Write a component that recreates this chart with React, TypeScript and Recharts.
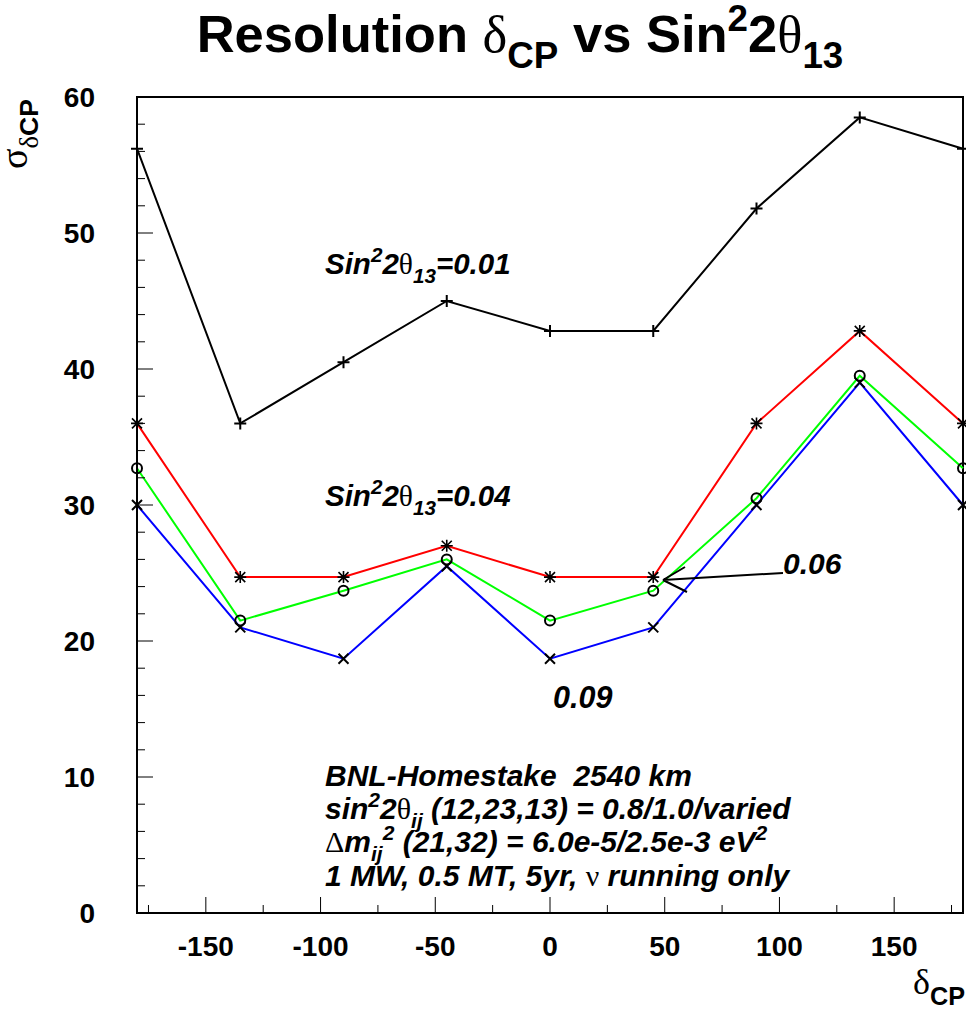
import React from 'react';
import { LineChart, Line, XAxis, YAxis, ReferenceArea } from 'recharts';

// delta_CP grid (degrees) and the resolution sigma(delta_CP) for each sin^2 2theta_13
const deltaCP = [-180, -135, -90, -45, 0, 45, 90, 135, 180];
const sigma001 = [56.2, 36.0, 40.5, 45.0, 42.8, 42.8, 51.8, 58.5, 56.2];
const sigma004 = [36.0, 24.7, 24.7, 27.0, 24.7, 24.7, 36.0, 42.8, 36.0];
const sigma006 = [32.7, 21.5, 23.7, 26.0, 21.5, 23.7, 30.5, 39.5, 32.7];
const sigma009 = [30.0, 21.0, 18.7, 25.5, 18.7, 21.0, 30.0, 39.0, 30.0];

const xTicks = [-175, -150, -125, -100, -75, -50, -25, 0, 25, 50, 75, 100, 125, 150, 175];
const yTicks = [0, 2, 4, 6, 8, 10, 12, 14, 16, 18, 20, 22, 24, 26, 28, 30, 32, 34, 36, 38, 40, 42, 44, 46, 48, 50, 52, 54, 56, 58, 60];

const data = deltaCP.map((d, i) => ({
  d,
  s001: sigma001[i],
  s004: sigma004[i],
  s006: sigma006[i],
  s009: sigma009[i],
}));

const SANS = '"Liberation Sans", Arial, Helvetica, sans-serif';
const SERIF = '"Liberation Serif", "Times New Roman", serif';

const X_MARGIN = 22;
const Y_MARGIN = 42;

const YTick = (props: any) => {
  const { x, y, payload } = props;
  const v = payload.value as number;
  const major = v % 10 === 0;
  const ax = x + Y_MARGIN;
  return (
    <g>
      {v !== 0 && v !== 60 && (
        <line x1={ax} x2={ax + (major ? 16 : 8)} y1={y} y2={y} stroke="#000" strokeWidth={1} />
      )}
      {major && (
        <text x={x} y={y} dy="0.36em" textAnchor="end" fontFamily={SANS} fontWeight="bold" fontSize={28} fill="#000">
          {v}
        </text>
      )}
    </g>
  );
};

const XTick = (props: any) => {
  const { x, y, payload } = props;
  const v = payload.value as number;
  const major = v % 50 === 0;
  const ay = y - X_MARGIN;
  return (
    <g>
      <line x1={x} x2={x} y1={ay} y2={ay - (major ? 16 : 8)} stroke="#000" strokeWidth={1} />
      {major && (
        <text x={x} y={y} dy="0.74em" textAnchor="middle" fontFamily={SANS} fontWeight="bold" fontSize={28} fill="#000">
          {v}
        </text>
      )}
    </g>
  );
};

// point markers
const plusDot = (p: any) => (
  <path key={`p-${p.index}`} d={`M${p.cx - 6},${p.cy}h12M${p.cx},${p.cy - 6}v12`} stroke="#000" strokeWidth={2} fill="none" />
);
const starDot = (p: any) => (
  <path
    key={`s-${p.index}`}
    d={`M${p.cx - 5},${p.cy - 5}l10,10M${p.cx - 5},${p.cy + 5}l10,-10M${p.cx - 6},${p.cy}h12M${p.cx},${p.cy - 6}v12`}
    stroke="#000"
    strokeWidth={1.6}
    fill="none"
  />
);
const circleDot = (p: any) => (
  <circle key={`c-${p.index}`} cx={p.cx} cy={p.cy} r={5} stroke="#000" strokeWidth={2} fill="none" />
);
const crossDot = (p: any) => (
  <path key={`x-${p.index}`} d={`M${p.cx - 5},${p.cy - 5}l10,10M${p.cx - 5},${p.cy + 5}l10,-10`} stroke="#000" strokeWidth={2} fill="none" />
);

type Seg = { t: string; sub?: boolean; sup?: boolean; greek?: boolean };

// Renders a run of text segments with sub/superscripts using relative dy shifts
const Rich = ({ segs, size, italic }: { segs: Seg[]; size: number; italic?: boolean }) => {
  let shift = 0;
  const out: React.ReactNode[] = [];
  segs.forEach((s, i) => {
    const target = s.sub ? 0.3 * size : s.sup ? -0.4 * size : 0;
    const dy = target - shift;
    shift = target;
    out.push(
      <tspan
        key={i}
        dy={dy}
        fontSize={s.sub || s.sup ? size * 0.7 : size}
        fontFamily={s.greek ? SERIF : SANS}
        fontWeight={s.greek ? 'normal' : 'bold'}
        fontStyle={s.greek || !italic ? 'normal' : 'italic'}
      >
        {s.t}
      </tspan>
    );
  });
  return <>{out}</>;
};

const sinTheta = (val: string): Seg[] => [
  { t: 'Sin' },
  { t: '2', sup: true },
  { t: '2' },
  { t: 'θ', greek: true },
  { t: '13', sub: true },
  { t: '=' + val },
];

const Overlay = () => (
  <svg width={966} height={1012} style={{ position: 'absolute', left: 0, top: 0, pointerEvents: 'none' }}>
    {/* title */}
    <text x={520} y={52} textAnchor="middle" fill="#000" style={{ whiteSpace: 'pre' }}>
      <Rich
        size={52.5}
        segs={[
          { t: 'Resolution ' },
          { t: 'δ', greek: true },
          { t: 'CP', sub: true },
          { t: ' vs Sin' },
          { t: '2', sup: true },
          { t: '2' },
          { t: 'θ', greek: true },
          { t: '13', sub: true },
        ]}
      />
    </text>

    {/* y-axis title */}
    <text transform="translate(27,169) rotate(-90)" fill="#000">
      <Rich size={38} segs={[{ t: 'σ', greek: true }, { t: 'δ', greek: true, sub: true }, { t: 'CP', sub: true }]} />
    </text>

    {/* x-axis title */}
    <text x={965} y={994} textAnchor="end" fill="#000">
      <Rich size={36} segs={[{ t: 'δ', greek: true }, { t: 'CP', sub: true }]} />
    </text>

    {/* curve labels */}
    <text x={325} y={274} fill="#000">
      <Rich size={29.5} italic segs={sinTheta('0.01')} />
    </text>
    <text x={325} y={506} fill="#000">
      <Rich size={29.5} italic segs={sinTheta('0.04')} />
    </text>
    <text x={783} y={574} fill="#000" fontFamily={SANS} fontWeight="bold" fontStyle="italic" fontSize={30}>
      0.06
    </text>
    <text x={553} y={708} fill="#000" fontFamily={SANS} fontWeight="bold" fontStyle="italic" fontSize={30.5}>
      0.09
    </text>
    <path d="M783,573L663,580M663,580L685,567M663,580L687,592" stroke="#000" strokeWidth={2} fill="none" />

    {/* run parameters */}
    <text x={325} y={786} fill="#000" style={{ whiteSpace: 'pre' }}>
      <Rich size={30} italic segs={[{ t: 'BNL-Homestake  2540 km' }]} />
    </text>
    <text x={325} y={819} fill="#000" style={{ whiteSpace: 'pre' }}>
      <Rich
        size={30}
        italic
        segs={[
          { t: 'sin' },
          { t: '2', sup: true },
          { t: '2' },
          { t: 'θ', greek: true },
          { t: 'ij', sub: true },
          { t: ' (12,23,13) = 0.8/1.0/varied' },
        ]}
      />
    </text>
    <text x={325} y={852} fill="#000" style={{ whiteSpace: 'pre' }}>
      <Rich
        size={30}
        italic
        segs={[
          { t: 'Δ', greek: true },
          { t: 'm' },
          { t: 'ij', sub: true },
          { t: '2', sup: true },
          { t: ' (21,32) = 6.0e-5/2.5e-3 eV' },
          { t: '2', sup: true },
        ]}
      />
    </text>
    <text x={325} y={886} fill="#000" style={{ whiteSpace: 'pre' }}>
      <Rich
        size={30}
        italic
        segs={[{ t: '1 MW, 0.5 MT, 5yr, ' }, { t: 'ν', greek: true }, { t: ' running only' }]}
      />
    </text>
  </svg>
);

export default function App() {
  return (
    <div style={{ position: 'absolute', left: 0, top: 0, width: 966, height: 1012, background: '#fff' }}>
      <LineChart width={966} height={1012} data={data} margin={{ top: 97, right: 3, bottom: 0, left: 0 }}>
        <XAxis
          dataKey="d"
          type="number"
          domain={[-180, 180]}
          ticks={xTicks}
          interval={0}
          height={99}
          tickSize={0}
          tickMargin={X_MARGIN}
          tickLine={false}
          axisLine={{ stroke: '#000', strokeWidth: 2 }}
          tick={<XTick />}
        />
        <YAxis
          type="number"
          domain={[0, 60]}
          ticks={yTicks}
          interval={0}
          width={137}
          tickSize={0}
          tickMargin={Y_MARGIN}
          tickLine={false}
          axisLine={{ stroke: '#000', strokeWidth: 2 }}
          tick={<YTick />}
        />
        <ReferenceArea x1={-180} x2={180} y1={0} y2={60} fill="none" stroke="#000" strokeWidth={2} />
        <Line dataKey="s001" stroke="#000" strokeWidth={2} dot={plusDot} isAnimationActive={false} />
        <Line dataKey="s004" stroke="#ff0000" strokeWidth={2} dot={starDot} isAnimationActive={false} />
        <Line dataKey="s006" stroke="#00ff00" strokeWidth={2} dot={circleDot} isAnimationActive={false} />
        <Line dataKey="s009" stroke="#0000ff" strokeWidth={2} dot={crossDot} isAnimationActive={false} />
      </LineChart>
      <Overlay />
    </div>
  );
}
